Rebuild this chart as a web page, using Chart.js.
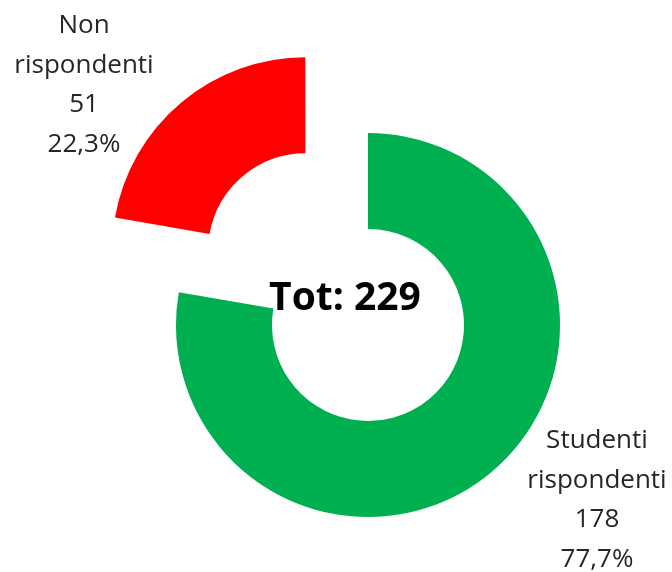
<!DOCTYPE html>
<html>
<head>
<meta charset="utf-8">
<script src="https://cdn.jsdelivr.net/npm/chart.js@4/dist/chart.umd.min.js"></script>
<style>
    html, body { margin: 0; padding: 0; background: #fff; }
    #wrap { width: 672px; height: 572px; position: relative; }
</style>
</head>
<body>
<div id="wrap"><canvas id="pieChart"></canvas></div>
<script>
const labels = ['Studenti rispondenti', 'Non rispondenti'];
const counts = [178, 51];
const percents = ['77,7%', '22,3%'];
const colors = ['#00B050', '#FF0000'];
const offsets = [0, 388];
const total = counts.reduce((a, b) => a + b, 0);

// text labels beside the slices + total in the hole
const labelPlugin = {
    id: 'pieLabels',
    afterDraw(chart) {
        const ctx = chart.ctx;
        ctx.save();
        ctx.textAlign = 'center';
        ctx.textBaseline = 'alphabetic';
        ctx.fillStyle = '#262626';
        ctx.font = '26px "Open Sans"';

        const spots = [
            { x: 597, y: 448, lines: ['Studenti', 'rispondenti', String(counts[0]), percents[0]] },
            { x: 84, y: 33, lines: ['Non', 'rispondenti', String(counts[1]), percents[1]] }
        ];
        spots.forEach(s => {
            s.lines.forEach((t, i) => ctx.fillText(t, s.x, s.y + i * 39.5));
        });

        ctx.fillStyle = '#000';
        ctx.font = 'bold 39px "Open Sans"';
        ctx.fillText('Tot: ' + total, 345, 310);
        ctx.restore();
    }
};

new Chart(document.getElementById('pieChart').getContext('2d'), {
    type: 'doughnut',
    data: {
        labels,
        datasets: [{
            data: counts,
            backgroundColor: colors,
            borderWidth: 0,
            offset: offsets,
            hoverOffset: 0
        }]
    },
    options: {
        responsive: true,
        maintainAspectRatio: false,
        animation: false,
        events: [],
        radius: 192,
        cutout: '50%',
        layout: { padding: { left: 64, top: 78, right: 0, bottom: 0 } },
        plugins: {
            legend: { display: false },
            tooltip: { enabled: false }
        }
    },
    plugins: [labelPlugin]
});
</script>
</body>
</html>
